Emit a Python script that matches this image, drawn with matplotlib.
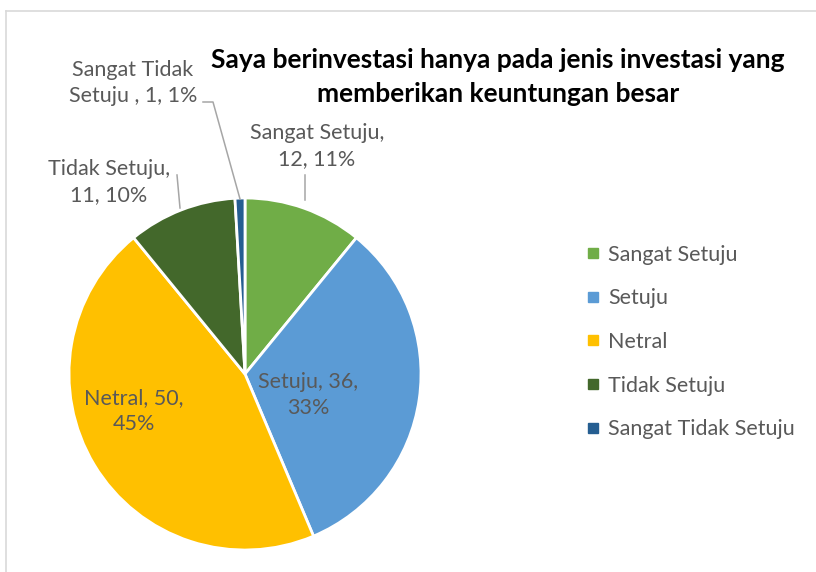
import matplotlib.pyplot as plt
from matplotlib.lines import Line2D

plt.rcParams['font.family'] = ['Lato', 'DejaVu Sans']

# data
kategori = ['Sangat Setuju', 'Setuju', 'Netral', 'Tidak Setuju', 'Sangat Tidak Setuju']
jumlah = [12, 36, 50, 11, 1]
warna = ['#70AD47', '#5B9BD5', '#FFC000', '#43682B', '#255E91']
judul = 'Saya berinvestasi hanya pada jenis investasi yang\nmemberikan keuntungan besar'

W, H = 816, 572
fig = plt.figure(figsize=(W / 100, H / 100), dpi=100)

# chart area border (left and top visible)
abu = '#D9D9D9'
fig.add_artist(Line2D([6 / W, 6 / W], [0, 1 - 11 / H], color=abu, lw=1.2))
fig.add_artist(Line2D([6 / W, 1], [1 - 11 / H, 1 - 11 / H], color=abu, lw=1.2))

# pie axes: center (245, 374) px, radius 176 px
cx, cy, r = 245, 374, 176
ax = fig.add_axes([(cx - r) / W, 1 - (cy + r) / H, 2 * r / W, 2 * r / H])
wedges, _ = ax.pie(jumlah, colors=warna, startangle=90, counterclock=False,
                   wedgeprops=dict(edgecolor='white', linewidth=2))
ax.set_xlim(-1, 1)
ax.set_ylim(-1, 1)
ax.set_aspect('equal')
ax.axis('off')

total = sum(jumlah)
pct = [round(v / total * 100) for v in jumlah]
teks = [
    f'Sangat Setuju,\n{jumlah[0]}, {pct[0]}%',
    f'Setuju, {jumlah[1]},\n{pct[1]}%',
    f'Netral, {jumlah[2]},\n{pct[2]}%',
    f'Tidak Setuju,\n{jumlah[3]}, {pct[3]}%',
    f'Sangat Tidak\nSetuju , {jumlah[4]}, {pct[4]}%',
]

def px(x, y):
    return ((x - cx) / r, (cy - y) / r)

posisi = [px(317, 146), px(308, 395), px(134, 411), px(109, 182), px(133, 83)]
warna_teks = '#595959'
for t, (x, y) in zip(teks, posisi):
    ax.text(x, y, t, ha='center', va='center', fontsize=15.5, color=warna_teks,
            linespacing=1.35, clip_on=False)

# leader lines
garis = '#A6A6A6'
lines = [
    [px(305, 175), px(305, 200)],
    [px(177, 175), px(180, 208)],
    [px(203, 102), px(213, 102), px(240, 199)],
]
for seg in lines:
    xs = [p[0] for p in seg]
    ys = [p[1] for p in seg]
    ax.plot(xs, ys, color=garis, lw=1.1, clip_on=False)

fig.text(498 / W, 1 - 77 / H, judul, ha='center', va='center', fontsize=19,
         fontweight='bold', color='black', linespacing=1.45)

# legend
handles = [Line2D([], [], marker='s', linestyle='none', markersize=7,
                  markerfacecolor=c, markeredgecolor=c) for c in warna]
fig.legend(handles, kategori, loc='center left', bbox_to_anchor=(578 / W, 1 - 342 / H),
           frameon=False, fontsize=15.5, labelcolor=warna_teks, handlelength=0.6,
           handletextpad=0.4, labelspacing=1.1, borderaxespad=0)

fig.savefig('out.png', dpi=100)
